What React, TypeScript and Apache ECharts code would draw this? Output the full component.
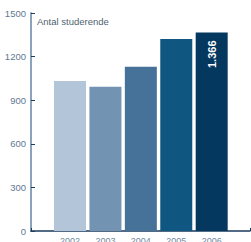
import React, { useEffect, useRef } from "react";
import * as echarts from "echarts";

const years = ["2002", "2003", "2004", "2005", "2006"];
const students = [1032, 993, 1130, 1321, 1366];
const barColors = ["#b3c5d9", "#7393b3", "#46729a", "#0f5681", "#05385f"];
const yTicks = { min: 0, max: 1500, interval: 300 };
const title = "Antal studerende";
const valueLabel = "1.366";

export default function App() {
  const ref = useRef<HTMLDivElement>(null);
  useEffect(() => {
    const chart = echarts.init(ref.current!, null, { renderer: "svg" });
    const font = "Liberation Sans, Arial, sans-serif";
    chart.setOption({
      animation: false,
      grid: [
        { left: 31, right: 1, top: 13, bottom: 11, containLabel: false, outerBoundsMode: "none" },
        { left: 52.3, right: 21.6, top: 13, bottom: 11, containLabel: false, outerBoundsMode: "none" },
      ],
      xAxis: [
        {
          gridIndex: 0,
          type: "value",
          min: 0,
          max: 1,
          interval: 1,
          axisLine: { show: true, lineStyle: { color: "#1a3a5c", width: 1.5 } },
          axisTick: { show: true, inside: true, length: 3, lineStyle: { color: "#1a3a5c", width: 1 } },
          axisLabel: { show: false },
          splitLine: { show: false },
        },
        {
          gridIndex: 1,
          type: "category",
          data: years,
          axisLine: { show: false },
          axisTick: { show: false },
          axisLabel: {
            color: "#7088a0",
            fontFamily: font,
            fontSize: 9,
            margin: 5,
          },
        },
      ],
      yAxis: [
        {
          gridIndex: 0,
          type: "value",
          ...yTicks,
          axisLine: { show: true, lineStyle: { color: "#8aa2ba", width: 2 } },
          axisTick: { show: true, inside: true, length: 4, lineStyle: { color: "#1f3d5e", width: 1 } },
          axisLabel: {
            color: "#5f7891",
            fontFamily: font,
            fontSize: 9.5,
            margin: 5,
            formatter: (v: number) => String(v),
          },
          splitLine: { show: false },
        },
        {
          gridIndex: 1,
          type: "value",
          ...yTicks,
          show: false,
          splitLine: { show: false },
        },
      ],
      graphic: [
        {
          type: "text",
          left: 37,
          top: 16,
          style: { text: title, fill: "#4f5f70", font: `9.5px ${font}` },
        },
      ],
      series: [
        {
          type: "bar",
          xAxisIndex: 1,
          yAxisIndex: 1,
          barWidth: 32,
          data: students.map((v, i) => ({
            value: v,
            itemStyle: { color: barColors[i] },
            label:
              i === students.length - 1
                ? {
                    show: true,
                    position: "insideTop",
                    rotate: 90,
                    align: "right",
                    verticalAlign: "middle",
                    distance: 8,
                    formatter: valueLabel,
                    color: "#ffffff",
                    fontWeight: "bold",
                    fontFamily: font,
                    fontSize: 11,
                  }
                : { show: false },
          })),
        },
      ],
    });
    return () => chart.dispose();
  }, []);
  return <div ref={ref} style={{ width: 251, height: 242, position: "absolute", left: 0, top: 0 }} />;
}
